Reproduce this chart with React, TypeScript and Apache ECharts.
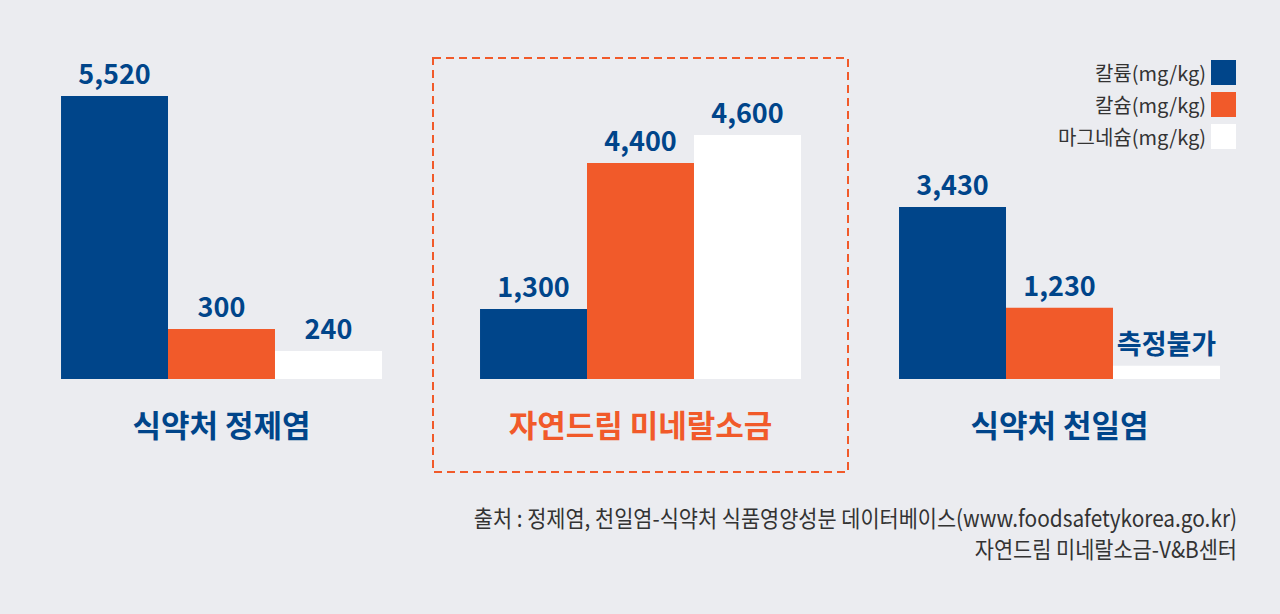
import React, { useEffect, useRef } from "react";
import * as echarts from "echarts";

const categories = ["식약처 정제염", "자연드림 미네랄소금", "식약처 천일염"];
const seriesNames = ["칼륨(mg/kg)", "칼슘(mg/kg)", "마그네슘(mg/kg)"];

// values printed above the bars (null = 측정불가)
const potassiumValues = [5520, 1300, 3430];
const calciumValues = [300, 4400, 1230];
const magnesiumValues: (number | null)[] = [240, 4600, null];

// bar heights as drawn in the infographic (same units)
const potassiumHeights = [5520, 1365, 3355];
const calciumHeights = [975, 4213, 1390];
const magnesiumHeights = [546, 4759, 259];

const sourceLines = [
  "출처 : 정제염, 천일염-식약처 식품영양성분 데이터베이스(www.foodsafetykorea.go.kr)",
  "자연드림 미네랄소금-V&B센터",
];

const NAVY = "#00458a";
const ORANGE = "#f15a2a";
const WHITE = "#ffffff";
const FONT = "'Noto Sans CJK KR', 'Noto Sans', sans-serif";

function fmt(v: number | null) {
  if (v === null) return "측정불가";
  return v.toLocaleString("en-US");
}

function makeSeries(name: string, heights: number[], values: (number | null)[], color: string) {
  return {
    name,
    type: "bar",
    barGap: "0%",
    barCategoryGap: "23.4%",
    itemStyle: { color },
    data: heights.map((h, i) => ({
      value: h,
      label: { formatter: fmt(values[i]) },
    })),
    label: {
      show: true,
      position: "top",
      distance: 10,
      color: NAVY,
      fontFamily: FONT,
      fontWeight: "bold",
      fontSize: 27,
    },
  };
}

export default function App() {
  const ref = useRef<HTMLDivElement>(null);
  useEffect(() => {
    if (!ref.current) return;
    const chart = echarts.init(ref.current, null, { renderer: "svg" });
    chart.setOption({
      animation: false,
      backgroundColor: "#ebecf0",
      textStyle: { fontFamily: FONT },
      grid: { left: 12, right: 11, top: 96, bottom: 235, containLabel: false },
      legend: {
        orient: "vertical",
        right: 39,
        top: 55,
        align: "right",
        itemWidth: 25,
        itemHeight: 25,
        itemGap: 7,
        icon: "rect",
        data: seriesNames,
        textStyle: { color: "#333", fontSize: 20, fontFamily: FONT },
      },
      xAxis: {
        type: "category",
        data: categories,
        axisLine: { show: false },
        axisTick: { show: false },
        axisLabel: {
          margin: 29,
          fontSize: 31,
          fontWeight: "bold",
          fontFamily: FONT,
          color: (_v: string, i: number) => (i === 1 ? ORANGE : NAVY),
        },
      },
      yAxis: { type: "value", show: false, min: 0, max: 5520, splitLine: { show: false } },
      series: [
        makeSeries(seriesNames[0], potassiumHeights, potassiumValues, NAVY),
        makeSeries(seriesNames[1], calciumHeights, calciumValues, ORANGE),
        makeSeries(seriesNames[2], magnesiumHeights, magnesiumValues, WHITE),
      ],
      graphic: [
        {
          type: "rect",
          shape: { x: 433, y: 58, width: 415, height: 414 },
          style: { fill: "none", stroke: ORANGE, lineWidth: 2, lineDash: [8, 5] },
          silent: true,
        },
        ...sourceLines.map((t, i) => ({
          type: "text",
          x: 1237,
          y: 517 + i * 31,
          scaleX: 0.905,
          style: {
            text: t,
            textAlign: "right",
            textVerticalAlign: "middle",
            fill: "#333",
            fontSize: 23,
            fontFamily: FONT,
          },
        })),
      ],
    });
    return () => chart.dispose();
  }, []);
  return (
    <div
      ref={ref}
      style={{ position: "fixed", left: 0, top: 0, width: 1280, height: 614 }}
    />
  );
}
